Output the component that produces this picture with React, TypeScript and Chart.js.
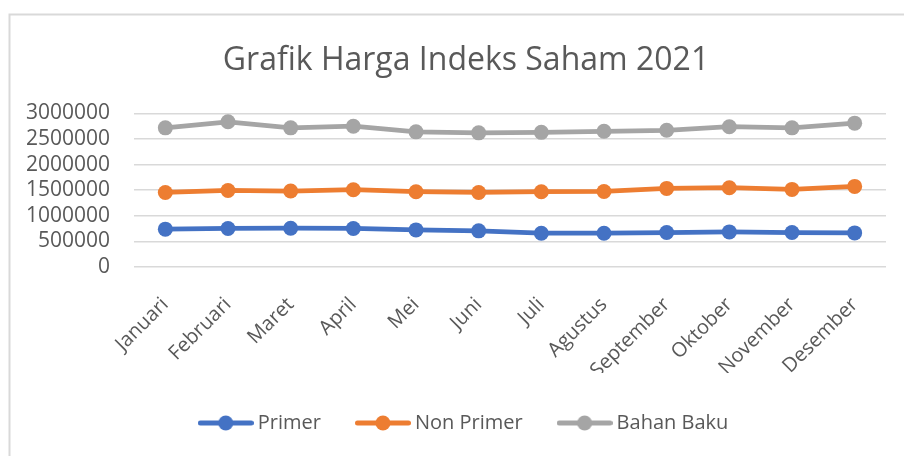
import React, { useEffect, useRef } from "react";
import { Chart, registerables } from "chart.js";

Chart.register(...registerables);

const months = ["Januari", "Februari", "Maret", "April", "Mei", "Juni", "Juli", "Agustus", "September", "Oktober", "November", "Desember"];
const primer = [739000, 752000, 758000, 752000, 725000, 706000, 660000, 660000, 673000, 686000, 673000, 666000];
const nonPrimer = [1456000, 1495000, 1484000, 1510000, 1470000, 1456000, 1470000, 1475000, 1535000, 1548000, 1516000, 1574000];
const bahanBaku = [2718000, 2836000, 2718000, 2750000, 2640000, 2620000, 2630000, 2650000, 2670000, 2740000, 2718000, 2810000];
const yTicks = [0, 500000, 1000000, 1500000, 2000000, 2500000, 3000000];

const FONT = "'Open Sans', 'Noto Sans', sans-serif";
const TEXT = "#595959";

function legendIcon(color: string): HTMLCanvasElement {
  const c = document.createElement("canvas");
  c.width = 56;
  c.height = 16;
  const ctx = c.getContext("2d")!;
  ctx.strokeStyle = color;
  ctx.lineWidth = 5;
  ctx.lineCap = "round";
  ctx.beginPath();
  ctx.moveTo(2.5, 8);
  ctx.lineTo(53.5, 8);
  ctx.stroke();
  ctx.fillStyle = color;
  ctx.beginPath();
  ctx.arc(28, 8, 7.5, 0, Math.PI * 2);
  ctx.fill();
  return c;
}

const framePlugin = {
  id: "frame",
  afterLayout(chart: any) {
    if (chart.titleBlock) chart.titleBlock.left = 46;
    if (chart.legend) chart.legend.left = 46;
  },
  beforeDraw(chart: any) {
    const ctx = chart.ctx;
    ctx.save();
    ctx.strokeStyle = "#d9d9d9";
    ctx.lineWidth = 2;
    ctx.beginPath();
    ctx.moveTo(9.5, 456);
    ctx.lineTo(9.5, 14.5);
    ctx.lineTo(904, 14.5);
    ctx.stroke();
    ctx.restore();
  },
};

export default function App() {
  const ref = useRef<HTMLCanvasElement>(null);
  useEffect(() => {
    const colors = ["#4472C4", "#ED7D31", "#A5A5A5"];
    const icons = colors.map(legendIcon);
    const mk = (label: string, data: number[], color: string) => ({
      label,
      data,
      borderColor: color,
      backgroundColor: color,
      borderWidth: 4.75,
      pointRadius: 7.5,
      pointHoverRadius: 7.5,
      pointBorderWidth: 0,
      pointBackgroundColor: color,
      tension: 0,
    });
    const chart = new Chart(ref.current!, {
      type: "line",
      data: {
        labels: months,
        datasets: [
          mk("Primer", primer, colors[0]),
          mk("Non Primer", nonPrimer, colors[1]),
          mk("Bahan Baku", bahanBaku, colors[2]),
        ],
      },
      options: {
        responsive: false,
        maintainAspectRatio: false,
        animation: false,
        layout: { padding: { left: 20, right: 18, top: 0, bottom: 13 } },
        plugins: {
          tooltip: { enabled: false },
          title: {
            display: true,
            text: "Grafik Harga Indeks Saham 2021",
            color: TEXT,
            font: { family: FONT, size: 32, weight: "normal" as any },
            padding: { top: 42, bottom: 33 },
          },
          legend: {
            display: true,
            position: "bottom",
            labels: {
              color: TEXT,
              font: { family: FONT, size: 20 },
              usePointStyle: true,
              pointStyleWidth: 44,
              padding: 40,
              generateLabels: (ch: any) =>
                ch.data.datasets.map((ds: any, i: number) => ({
                  text: ds.label,
                  fillStyle: ds.borderColor,
                  strokeStyle: ds.borderColor,
                  lineWidth: 0,
                  pointStyle: icons[i],
                  hidden: false,
                  datasetIndex: i,
                  fontColor: TEXT,
                })),
            },
          },
        },
        scales: {
          x: {
            offset: true,
            grid: { display: false, drawTicks: false },
            border: { display: false },
            ticks: {
              color: TEXT,
              font: { family: FONT, size: 20 },
              minRotation: 45,
              maxRotation: 45,
              padding: 26,
              autoSkip: false,
            },
            afterFit: (s: any) => {
              s.height = 106;
            },
          },
          y: {
            min: 0,
            max: 3000000,
            grid: { color: "#d9d9d9", lineWidth: 1.5, drawTicks: false },
            border: { display: false },
            afterBuildTicks: (s: any) => {
              s.ticks = yTicks.map((v) => ({ value: v }));
            },
            ticks: {
              color: TEXT,
              font: { family: FONT, size: 21 },
              padding: 24,
              autoSkip: false,
              callback: (v: any) => String(v),
            },
            afterFit: (s: any) => {
              s.width = 114;
            },
          },
        },
      },
      plugins: [framePlugin],
    });
    return () => chart.destroy();
  }, []);
  return (
    <div style={{ position: "fixed", left: 0, top: 0, width: 904, height: 456, background: "#fff" }}>
      <canvas ref={ref} width={904} height={456} style={{ width: 904, height: 456, display: "block" }} />
    </div>
  );
}
